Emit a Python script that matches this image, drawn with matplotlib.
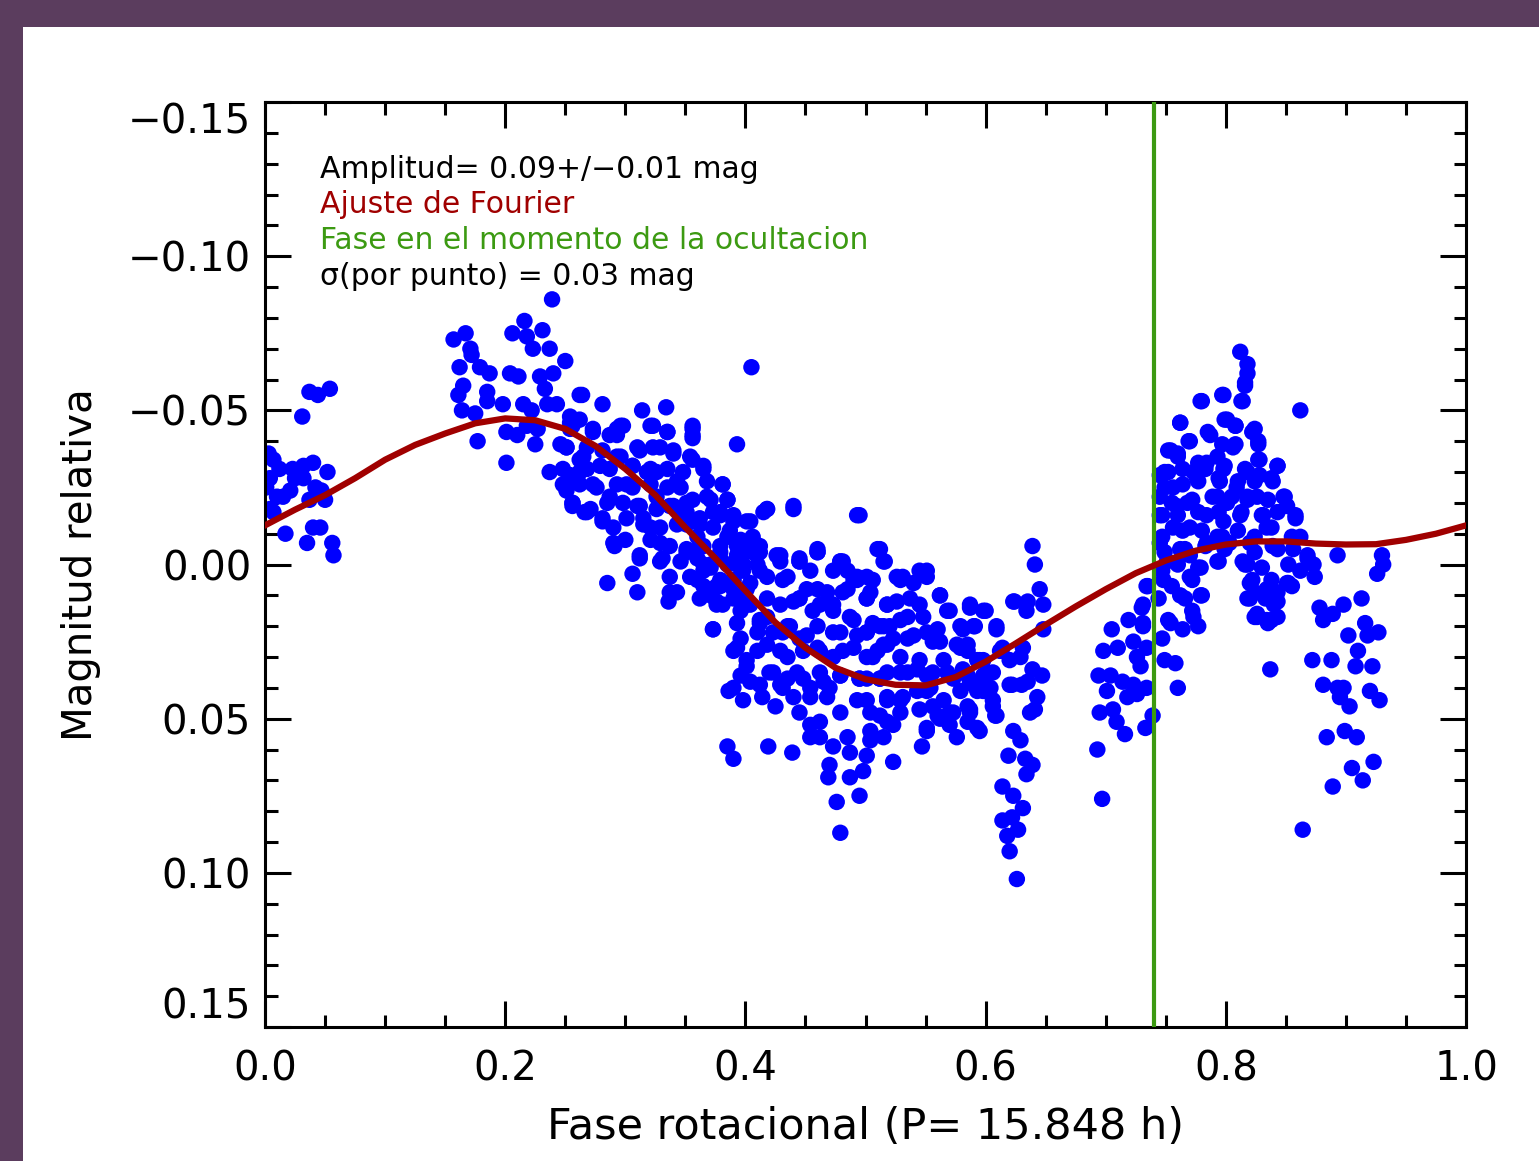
import numpy as np
import matplotlib
matplotlib.use('Agg')
import matplotlib.pyplot as plt
from matplotlib.patches import Rectangle
from matplotlib.ticker import MultipleLocator

# observaciones (fase, magnitud relativa), leidas por grupos
obs_inicio = [
    (0.037, -0.056), (0.044, -0.055), (0.054, -0.057), (0.031, -0.048),
    (0.007, -0.034), (0.004, -0.028), (0.012, -0.031), (0.023, -0.031),
    (0.032, -0.032), (0.040, -0.033), (0.052, -0.030), (0.032, -0.028),
    (0.021, -0.024), (0.010, -0.022), (0.004, -0.018), (0.037, -0.021),
    (0.047, -0.024), (0.050, -0.021), (0.017, -0.010), (0.035, -0.007),
    (0.040, -0.012), (0.046, -0.012), (0.056, -0.007), (0.057, -0.003),
    (0.007, -0.017), (0.015, -0.022), (0.001, -0.025), (0.025, -0.028),
    (0.042, -0.025), (0.003, -0.036),
]

obs_maximo = [
    (0.157, -0.073), (0.167, -0.075), (0.171, -0.070), (0.172, -0.068),
    (0.162, -0.064), (0.161, -0.055), (0.165, -0.058), (0.179, -0.064),
    (0.187, -0.062), (0.164, -0.050), (0.175, -0.049), (0.185, -0.056),
    (0.185, -0.053), (0.177, -0.040), (0.198, -0.052), (0.201, -0.043),
    (0.210, -0.042), (0.201, -0.033), (0.206, -0.075), (0.216, -0.079),
    (0.218, -0.074), (0.223, -0.070), (0.231, -0.076), (0.237, -0.070),
    (0.239, -0.086), (0.204, -0.062), (0.211, -0.061), (0.215, -0.052),
    (0.222, -0.050), (0.229, -0.061), (0.240, -0.062), (0.250, -0.066),
    (0.233, -0.057), (0.235, -0.052), (0.243, -0.052), (0.262, -0.055),
    (0.218, -0.045), (0.227, -0.044), (0.225, -0.039), (0.256, -0.047),
    (0.254, -0.044), (0.246, -0.039), (0.237, -0.030), (0.248, -0.026),
    (0.256, -0.019), (0.266, -0.017), (0.262, -0.034), (0.260, -0.028),
]

obs_bajada = [
    (0.405, -0.064), (0.264, -0.055), (0.281, -0.052), (0.314, -0.050),
    (0.334, -0.051), (0.356, -0.045), (0.356, -0.042), (0.393, -0.039),
    (0.418, -0.018), (0.440, -0.019), (0.493, -0.016), (0.296, -0.045),
    (0.293, -0.042), (0.321, -0.045), (0.335, -0.043), (0.340, -0.036),
    (0.354, -0.035), (0.365, -0.032), (0.381, -0.026), (0.385, -0.021),
    (0.368, -0.022), (0.351, -0.020), (0.401, -0.014), (0.415, -0.017),
    (0.406, -0.008), (0.426, -0.003), (0.445, -0.001), (0.460, -0.005),
    (0.479, -0.001), (0.485, 0.002), (0.254, -0.048), (0.256, -0.045),
    (0.273, -0.044), (0.287, -0.042), (0.310, -0.038), (0.323, -0.038),
    (0.251, -0.038), (0.251, -0.026), (0.256, -0.020), (0.268, -0.017),
    (0.281, -0.015), (0.290, -0.012), (0.300, -0.008), (0.291, -0.006),
    (0.312, -0.002), (0.306, 0.003), (0.285, 0.006), (0.310, 0.009),
    (0.337, 0.009), (0.336, 0.012), (0.329, -0.001), (0.321, -0.012),
    (0.329, -0.007), (0.262, -0.030), (0.273, -0.026), (0.287, -0.022),
    (0.301, -0.026), (0.310, -0.019), (0.318, -0.030), (0.326, -0.022),
    (0.337, -0.019), (0.343, -0.027), (0.351, -0.013), (0.362, -0.013),
    (0.362, -0.006), (0.351, -0.004), (0.371, 0.000), (0.379, -0.006),
    (0.387, -0.011), (0.396, -0.003), (0.376, 0.007), (0.360, 0.005),
    (0.390, 0.005), (0.401, 0.013), (0.418, 0.011), (0.412, 0.002),
    (0.431, 0.005), (0.440, 0.012), (0.451, 0.008), (0.462, 0.013),
    (0.481, 0.009), (0.490, 0.005), (0.373, 0.021), (0.393, 0.019),
    (0.412, 0.019), (0.435, 0.020), (0.315, -0.015), (0.279, -0.032),
    (0.296, -0.035), (0.306, -0.032), (0.268, -0.038), (0.248, -0.031),
    (0.326, -0.030), (0.379, -0.016), (0.346, -0.015),
]

obs_bajada_densa = [
    (0.254, -0.046), (0.262, -0.047), (0.273, -0.043), (0.293, -0.044),
    (0.298, -0.045), (0.323, -0.045), (0.335, -0.043), (0.356, -0.044),
    (0.356, -0.041), (0.251, -0.038), (0.265, -0.035), (0.281, -0.037),
    (0.293, -0.035), (0.312, -0.037), (0.329, -0.038), (0.340, -0.037),
    (0.356, -0.034), (0.365, -0.031), (0.254, -0.029), (0.268, -0.031),
    (0.287, -0.031), (0.306, -0.032), (0.321, -0.031), (0.335, -0.031),
    (0.348, -0.030), (0.368, -0.027), (0.381, -0.026), (0.251, -0.024),
    (0.262, -0.026), (0.276, -0.025), (0.293, -0.026), (0.306, -0.025),
    (0.321, -0.026), (0.335, -0.025), (0.346, -0.025), (0.356, -0.021),
    (0.385, -0.021), (0.256, -0.020), (0.271, -0.018), (0.285, -0.020),
    (0.298, -0.020), (0.312, -0.019), (0.326, -0.018), (0.340, -0.019),
    (0.351, -0.017), (0.362, -0.015), (0.373, -0.017), (0.390, -0.016),
    (0.404, -0.014), (0.281, -0.014), (0.301, -0.015), (0.315, -0.013),
    (0.329, -0.012), (0.343, -0.013), (0.360, -0.009), (0.373, -0.012),
    (0.385, -0.009), (0.396, -0.007), (0.406, -0.009), (0.290, -0.007),
    (0.321, -0.008), (0.337, -0.006), (0.351, -0.005), (0.365, -0.006),
    (0.379, -0.004), (0.393, -0.003), (0.406, -0.004), (0.312, -0.003),
    (0.331, -0.002), (0.346, -0.001), (0.360, -0.002), (0.371, 0.001),
    (0.385, 0.000), (0.398, 0.002), (0.410, 0.000), (0.337, 0.004),
    (0.354, 0.004), (0.365, 0.007), (0.379, 0.007), (0.390, 0.008),
    (0.404, 0.006), (0.343, 0.009), (0.362, 0.011), (0.376, 0.012),
    (0.396, 0.011),
]

obs_minimo = [
    (0.386, 0.041), (0.398, 0.044), (0.414, 0.043), (0.425, 0.046),
    (0.385, 0.059), (0.390, 0.063), (0.419, 0.059), (0.439, 0.061),
    (0.469, 0.069), (0.476, 0.077), (0.479, 0.087), (0.495, 0.075),
    (0.498, 0.067), (0.523, 0.064), (0.547, 0.059), (0.551, 0.054),
    (0.576, 0.056), (0.595, 0.054), (0.562, 0.050), (0.608, 0.049),
    (0.510, -0.005), (0.516, -0.001), (0.562, 0.010), (0.587, 0.014),
    (0.600, 0.015), (0.609, 0.021), (0.570, 0.015), (0.529, 0.005),
    (0.551, 0.002), (0.540, 0.006), (0.396, 0.036), (0.404, 0.038),
    (0.393, 0.027), (0.401, 0.031), (0.420, 0.035), (0.435, 0.037),
    (0.445, 0.048), (0.454, 0.052), (0.462, 0.056), (0.473, 0.059),
    (0.487, 0.061), (0.504, 0.057), (0.515, 0.056), (0.479, 0.048),
    (0.493, 0.044), (0.504, 0.048), (0.518, 0.051), (0.529, 0.044),
    (0.543, 0.041), (0.556, 0.046), (0.570, 0.048), (0.585, 0.046),
    (0.598, 0.041), (0.606, 0.035), (0.593, 0.031), (0.579, 0.027),
    (0.562, 0.025), (0.551, 0.022), (0.535, 0.024), (0.518, 0.026),
    (0.506, 0.030), (0.490, 0.027), (0.473, 0.030), (0.460, 0.027),
    (0.445, 0.024), (0.431, 0.022), (0.418, 0.017), (0.404, 0.013),
    (0.390, 0.011), (0.445, 0.011), (0.460, 0.008), (0.473, 0.002),
    (0.481, -0.001), (0.460, -0.004), (0.445, -0.001), (0.429, -0.001),
    (0.412, -0.004), (0.493, 0.005), (0.501, 0.011), (0.487, 0.017),
    (0.473, 0.013), (0.515, 0.020), (0.535, 0.017), (0.545, 0.013),
    (0.526, 0.012), (0.501, 0.022), (0.479, 0.022), (0.460, 0.020),
    (0.435, 0.030), (0.418, 0.026), (0.410, 0.022), (0.448, 0.037),
    (0.465, 0.038), (0.479, 0.036), (0.495, 0.037), (0.512, 0.037),
    (0.529, 0.035), (0.543, 0.034), (0.556, 0.035), (0.573, 0.037),
    (0.587, 0.038), (0.598, 0.036), (0.554, 0.040), (0.518, 0.043),
    (0.468, 0.043), (0.454, 0.043), (0.440, 0.043), (0.429, 0.039),
    (0.454, 0.056), (0.462, 0.051), (0.485, 0.056), (0.470, 0.065),
    (0.487, 0.069), (0.501, 0.062), (0.373, 0.008), (0.376, 0.013),
    (0.365, 0.002), (0.379, -0.002), (0.390, 0.005), (0.398, 0.000),
    (0.393, -0.006),
]

obs_minimo_denso = [
    (0.418, -0.018), (0.440, -0.018), (0.495, -0.016), (0.512, -0.005),
    (0.515, -0.001), (0.460, -0.004), (0.445, -0.002), (0.479, -0.001),
    (0.429, -0.003), (0.412, -0.006), (0.493, 0.004), (0.506, 0.005),
    (0.526, 0.004), (0.454, 0.002), (0.435, 0.004), (0.418, 0.004),
    (0.401, 0.008), (0.468, 0.009), (0.485, 0.008), (0.501, 0.011),
    (0.518, 0.013), (0.445, 0.011), (0.429, 0.013), (0.412, 0.018),
    (0.396, 0.015), (0.456, 0.015), (0.473, 0.015), (0.490, 0.018),
    (0.506, 0.019), (0.520, 0.020), (0.437, 0.020), (0.423, 0.022),
    (0.396, 0.024), (0.451, 0.023), (0.473, 0.022), (0.493, 0.023),
    (0.515, 0.026), (0.390, 0.028), (0.410, 0.028), (0.429, 0.028),
    (0.448, 0.028), (0.462, 0.028), (0.481, 0.028), (0.501, 0.030),
    (0.401, 0.033), (0.423, 0.035), (0.443, 0.035), (0.462, 0.035),
    (0.479, 0.036), (0.495, 0.037), (0.512, 0.037), (0.390, 0.040),
    (0.412, 0.039), (0.431, 0.040), (0.454, 0.040), (0.470, 0.040),
    (0.373, 0.021), (0.371, 0.010), (0.379, 0.005), (0.381, 0.013),
    (0.365, 0.000), (0.393, 0.000), (0.396, -0.008), (0.379, -0.017),
    (0.390, -0.014), (0.371, -0.021), (0.531, 0.004), (0.545, 0.002),
    (0.551, 0.004), (0.562, 0.010), (0.587, 0.013), (0.598, 0.015),
    (0.623, 0.012), (0.609, 0.020), (0.501, 0.004), (0.504, 0.009),
    (0.518, 0.013), (0.537, 0.011), (0.529, 0.018), (0.512, 0.020),
    (0.548, 0.017), (0.568, 0.015), (0.560, 0.021), (0.579, 0.020),
    (0.590, 0.020), (0.501, 0.022), (0.523, 0.024), (0.540, 0.023),
    (0.556, 0.025), (0.576, 0.026), (0.585, 0.028), (0.598, 0.031),
    (0.614, 0.027), (0.510, 0.028), (0.529, 0.030), (0.545, 0.031),
    (0.565, 0.031), (0.501, 0.037), (0.518, 0.035), (0.535, 0.035),
    (0.551, 0.036), (0.568, 0.035), (0.585, 0.036), (0.601, 0.035),
    (0.620, 0.039), (0.501, 0.044), (0.518, 0.044), (0.531, 0.043),
    (0.551, 0.041), (0.565, 0.044), (0.579, 0.041), (0.593, 0.041),
    (0.606, 0.046), (0.512, 0.049), (0.529, 0.048), (0.545, 0.047),
    (0.560, 0.049), (0.573, 0.048), (0.587, 0.048), (0.504, 0.054),
    (0.523, 0.052), (0.551, 0.053), (0.570, 0.052), (0.593, 0.053),
    (0.623, 0.054),
]

obs_hueco = [
    (0.639, -0.006), (0.641, 0.000), (0.645, 0.008), (0.648, 0.013),
    (0.635, 0.012), (0.624, 0.012), (0.634, 0.015), (0.648, 0.021),
    (0.581, 0.021), (0.591, 0.020), (0.612, 0.028), (0.585, 0.026),
    (0.595, 0.031), (0.581, 0.034), (0.601, 0.036), (0.590, 0.039),
    (0.604, 0.040), (0.606, 0.044), (0.587, 0.047), (0.585, 0.051),
    (0.609, 0.049), (0.620, 0.031), (0.629, 0.030), (0.631, 0.027),
    (0.639, 0.034), (0.647, 0.036), (0.622, 0.039), (0.630, 0.039),
    (0.635, 0.038), (0.643, 0.043), (0.637, 0.048), (0.641, 0.047),
    (0.629, 0.057), (0.619, 0.062), (0.633, 0.063), (0.639, 0.065),
    (0.634, 0.068), (0.614, 0.072), (0.623, 0.075), (0.631, 0.079),
    (0.614, 0.083), (0.622, 0.082), (0.627, 0.086), (0.618, 0.088),
    (0.620, 0.093), (0.626, 0.102), (0.705, 0.021), (0.698, 0.028),
    (0.710, 0.027), (0.719, 0.018), (0.730, 0.014), (0.731, 0.020),
    (0.723, 0.025), (0.734, 0.027), (0.726, 0.030), (0.729, 0.033),
    (0.694, 0.036), (0.704, 0.036), (0.714, 0.038), (0.723, 0.039),
    (0.701, 0.041), (0.718, 0.043), (0.726, 0.042), (0.695, 0.048),
    (0.706, 0.047), (0.709, 0.051), (0.716, 0.055), (0.733, 0.053),
    (0.693, 0.060), (0.697, 0.076), (0.735, 0.007), (0.734, 0.040),
]

obs_segundo_max = [
    (0.812, -0.069), (0.818, -0.065), (0.818, -0.062), (0.816, -0.058),
    (0.798, -0.055), (0.814, -0.053), (0.780, -0.053), (0.862, -0.050),
    (0.762, -0.046), (0.801, -0.047), (0.808, -0.045), (0.824, -0.044),
    (0.770, -0.040), (0.787, -0.042), (0.754, -0.037), (0.760, -0.036),
    (0.827, -0.039), (0.828, -0.034), (0.843, -0.032), (0.839, -0.027),
    (0.752, -0.030), (0.745, -0.029), (0.848, -0.022), (0.851, -0.019),
    (0.858, -0.015), (0.862, -0.009), (0.868, -0.002), (0.851, 0.006),
    (0.843, 0.012), (0.834, 0.018), (0.826, 0.016), (0.820, 0.011),
    (0.820, 0.006), (0.818, 0.000), (0.745, -0.022), (0.745, -0.016),
    (0.745, -0.007), (0.751, -0.001), (0.748, 0.005), (0.734, 0.007),
    (0.731, 0.013), (0.731, 0.019), (0.754, 0.019), (0.764, 0.021),
    (0.773, 0.017), (0.779, 0.010), (0.762, 0.010), (0.770, 0.004),
    (0.793, -0.001), (0.779, 0.001), (0.756, -0.012), (0.768, -0.020),
    (0.776, -0.028), (0.784, -0.033), (0.798, -0.031), (0.806, -0.038),
    (0.809, -0.025), (0.793, -0.022), (0.784, -0.016), (0.770, -0.012),
    (0.798, -0.014), (0.803, -0.007), (0.812, -0.016), (0.818, -0.022),
    (0.818, -0.030), (0.826, -0.022), (0.831, -0.016), (0.834, -0.012),
    (0.820, -0.007), (0.814, -0.001), (0.839, -0.006), (0.828, -0.029),
    (0.793, -0.009), (0.762, -0.005), (0.770, -0.003), (0.756, -0.025),
    (0.773, -0.030), (0.795, -0.027), (0.784, -0.007), (0.801, -0.020),
    (0.793, -0.035), (0.759, -0.019), (0.758, 0.032), (0.760, 0.040),
    (0.749, 0.031), (0.739, 0.049), (0.744, 0.011), (0.747, 0.024),
]

obs_segundo_denso = [
    (0.816, -0.059), (0.797, -0.055), (0.813, -0.053), (0.779, -0.053),
    (0.762, -0.046), (0.799, -0.047), (0.808, -0.045), (0.822, -0.043),
    (0.785, -0.043), (0.769, -0.040), (0.827, -0.040), (0.752, -0.037),
    (0.760, -0.035), (0.777, -0.033), (0.797, -0.039), (0.808, -0.039),
    (0.827, -0.034), (0.843, -0.032), (0.749, -0.030), (0.764, -0.031),
    (0.783, -0.031), (0.799, -0.032), (0.816, -0.031), (0.838, -0.028),
    (0.749, -0.025), (0.764, -0.026), (0.777, -0.027), (0.794, -0.028),
    (0.810, -0.027), (0.824, -0.027), (0.755, -0.020), (0.772, -0.021),
    (0.789, -0.022), (0.805, -0.022), (0.818, -0.021), (0.835, -0.021),
    (0.849, -0.022), (0.747, -0.016), (0.760, -0.016), (0.777, -0.017),
    (0.794, -0.017), (0.813, -0.017), (0.830, -0.016), (0.843, -0.017),
    (0.858, -0.016), (0.747, -0.009), (0.764, -0.011), (0.780, -0.011),
    (0.797, -0.009), (0.810, -0.011), (0.824, -0.009), (0.838, -0.012),
    (0.855, -0.009), (0.749, -0.004), (0.766, -0.005), (0.783, -0.006),
    (0.799, -0.005), (0.824, -0.004), (0.843, -0.005), (0.747, 0.002),
    (0.760, 0.000), (0.777, 0.001), (0.794, -0.001), (0.816, 0.000),
    (0.830, 0.001), (0.852, 0.000), (0.755, 0.007), (0.772, 0.005),
    (0.822, 0.005), (0.838, 0.005), (0.855, 0.007), (0.766, 0.011),
    (0.780, 0.010), (0.824, 0.009), (0.833, 0.011), (0.843, 0.009),
    (0.752, 0.018), (0.772, 0.015), (0.777, 0.020), (0.824, 0.017),
    (0.838, 0.018), (0.840, 0.013), (0.818, 0.011),
]

obs_final = [
    (0.893, -0.003), (0.930, -0.003), (0.931, 0.000), (0.926, 0.003),
    (0.868, -0.003), (0.873, 0.000), (0.874, 0.004), (0.852, 0.006),
    (0.862, 0.002), (0.856, -0.005), (0.826, 0.017), (0.835, 0.019),
    (0.843, 0.017), (0.839, 0.012), (0.834, 0.008), (0.837, 0.034),
    (0.878, 0.014), (0.881, 0.018), (0.889, 0.016), (0.898, 0.013),
    (0.913, 0.011), (0.916, 0.019), (0.918, 0.023), (0.927, 0.022),
    (0.902, 0.023), (0.910, 0.028), (0.908, 0.033), (0.922, 0.033),
    (0.872, 0.031), (0.888, 0.031), (0.881, 0.039), (0.893, 0.040),
    (0.898, 0.040), (0.895, 0.043), (0.903, 0.046), (0.920, 0.041),
    (0.928, 0.044), (0.884, 0.056), (0.899, 0.054), (0.909, 0.056),
    (0.923, 0.064), (0.905, 0.066), (0.914, 0.070), (0.889, 0.072),
    (0.864, 0.086),
]

fase_ajuste = [
    0.000, 0.025, 0.050, 0.075, 0.100, 0.125, 0.150, 0.175, 0.200, 0.225,
    0.250, 0.275, 0.300, 0.325, 0.350, 0.375, 0.400, 0.425, 0.450, 0.475,
    0.500, 0.525, 0.550, 0.575, 0.600, 0.625, 0.650, 0.675, 0.700, 0.725,
    0.750, 0.775, 0.800, 0.825, 0.850, 0.875, 0.900, 0.925, 0.950, 0.975,
    1.000,
]
mag_ajuste = [
    -0.0127, -0.0178, -0.0225, -0.0280, -0.0340, -0.0388, -0.0425, -0.0458,
    -0.0474, -0.0468, -0.0440, -0.0385, -0.0310, -0.0225, -0.0120, -0.0020,
    0.0085, 0.0188, 0.0270, 0.0335, 0.0372, 0.0390, 0.0392, 0.0365,
    0.0315, 0.0256, 0.0195, 0.0136, 0.0080, 0.0028, -0.0013, -0.0045,
    -0.0065, -0.0075, -0.0075, -0.0068, -0.0065, -0.0066, -0.0080, -0.0100,
    -0.0127,
]

fase_ocultacion = 0.740

ticks_x = [0.0, 0.2, 0.4, 0.6, 0.8, 1.0]
ticks_y = [-0.15, -0.10, -0.05, 0.00, 0.05, 0.10, 0.15]

textos = [
    'Amplitud= 0.09+/\u22120.01 mag',
    'Ajuste de Fourier',
    'Fase en el momento de la ocultacion',
    '\u03c3(por punto) = 0.03 mag',
]
colores_texto = ['black', '#a00000', '#3c9a12', 'black']


def main():
    """
    Dibuja la curva de luz rotacional y guarda out.png
    """
    puntos = np.array(obs_inicio + obs_maximo + obs_bajada + obs_bajada_densa
                      + obs_minimo + obs_minimo_denso + obs_hueco
                      + obs_segundo_max + obs_segundo_denso + obs_final)

    fig = plt.figure(figsize=(15.39, 11.61), dpi=100, facecolor='#5b3d5e')
    fondo = Rectangle((23 / 1539, 0), 1, 1 - 27 / 1161,
                      transform=fig.transFigure, facecolor='white',
                      edgecolor='none', zorder=-5)
    fig.add_artist(fondo)

    ax = fig.add_axes([0.1722, 0.1154, 0.7804, 0.7967])
    ax.scatter(puntos[:, 0], puntos[:, 1], s=140, color='#0000ff',
               edgecolors='none', zorder=2)
    ax.axvline(fase_ocultacion, color='#3c9a12', lw=3, zorder=3)
    ax.plot(fase_ajuste, mag_ajuste, color='#a00000', lw=4.5, zorder=4)

    ax.set_xlim(0, 1)
    ax.set_ylim(0.15, -0.15)
    ax.set_xticks(ticks_x, ['%.1f' % t for t in ticks_x])
    ax.set_yticks(ticks_y, [('%.2f' % t).replace('-', '\u2212')
                            for t in ticks_y])
    ax.xaxis.set_minor_locator(MultipleLocator(0.05))
    ax.yaxis.set_minor_locator(MultipleLocator(0.01))
    ax.tick_params(which='both', direction='in', top=True, right=True,
                   width=2.2, labelsize=29)
    ax.tick_params(which='major', length=19)
    ax.tick_params(which='minor', length=9)
    ax.tick_params(axis='x', pad=16)
    ax.tick_params(axis='y', pad=10)
    for s in ax.spines.values():
        s.set_linewidth(2.2)

    # las etiquetas de los extremos quedan dentro del eje, como en IDL
    ytick = ax.yaxis.get_major_ticks()
    ytick[0].label1.set_verticalalignment('top')
    ytick[-1].label1.set_verticalalignment('bottom')

    ax.set_xlabel('Fase rotacional (P= 15.848 h)', fontsize=31, labelpad=12)
    ax.set_ylabel('Magnitud relativa', fontsize=29, labelpad=19)

    alturas = [0.918, 0.8805, 0.8415, 0.802]
    for texto, color, y in zip(textos, colores_texto, alturas):
        ax.text(0.0458, y, texto, transform=ax.transAxes, color=color,
                fontsize=21.5, va='baseline', ha='left')

    fig.savefig('out.png', dpi=100, facecolor=fig.get_facecolor())


if __name__ == "__main__":
    main()
